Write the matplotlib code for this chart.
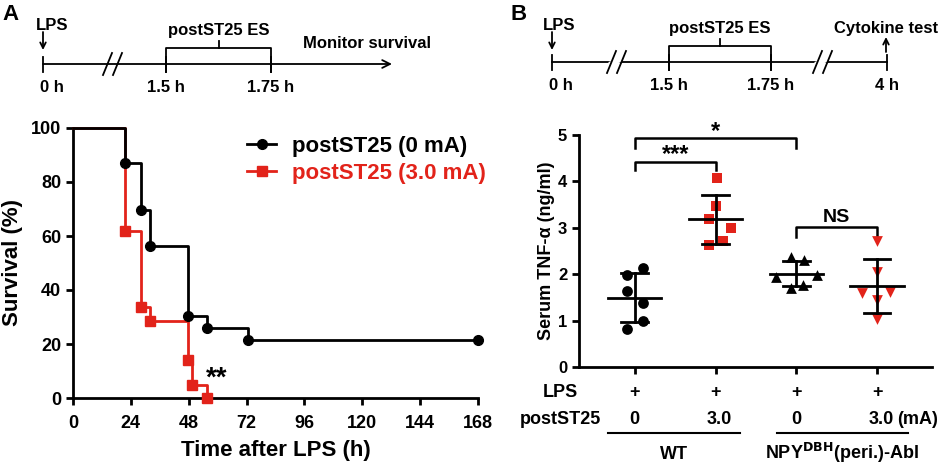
import matplotlib
matplotlib.use('Agg')
import matplotlib.pyplot as plt
import numpy as np

RED = '#E2231A'
plt.rcParams['font.family'] = ['Liberation Sans', 'DejaVu Sans']

# ---- panel A : survival ----
time_0mA = [0, 21.4, 28.4, 31.8, 47.7, 55.6, 72.6, 168]
surv_0mA = [100, 87.1, 69.8, 56.4, 30.3, 26.1, 21.6, 21.6]
time_3mA = [0, 21.4, 28.4, 31.8, 47.7, 49.5, 55.6]
surv_3mA = [100, 61.7, 33.6, 28.6, 14.0, 4.7, 0]
legend_labels = ['postST25 (0 mA)', 'postST25 (3.0 mA)']
xticks_a = [0, 24, 48, 72, 96, 120, 144, 168]
yticks_a = [0, 20, 40, 60, 80, 100]

# ---- panel B : serum TNF-alpha ----
tnf_wt_0 = [1.98, 2.13, 1.64, 1.39, 1.00, 0.81]
tnf_wt_3 = [4.07, 3.46, 3.20, 3.00, 2.72, 2.63]
tnf_abl_0 = [2.36, 2.31, 1.95, 1.98, 1.70, 1.77]
tnf_abl_3 = [2.72, 2.04, 1.60, 1.62, 1.44, 1.03]
jitter_wt_0 = [-0.1, 0.1, -0.1, 0.1, 0.1, -0.1]
jitter_wt_3 = [0.02, 0.01, -0.08, 0.19, 0.09, -0.075]
jitter_abl_0 = [-0.07, 0.09, -0.25, 0.26, -0.07, 0.08]
jitter_abl_3 = [0.0, 0.0, -0.19, 0.165, 0.0, 0.0]
lps_row = ['+', '+', '+', '+']
current_row = ['0', '3.0', '0', '3.0']
group_names = ['WT', r'NPY$^{\mathbf{DBH}}$(peri.)-Abl']

# ---- timelines ----
tl_a_labels = ['0 h', '1.5 h', '1.75 h']
tl_b_labels = ['0 h', '1.5 h', '1.75 h', '4 h']

fig = plt.figure(figsize=(9.47, 4.65), dpi=100)

# overlay in pixel coordinates for the schematic timelines
ov = fig.add_axes([0, 0, 1, 1])
ov.set_xlim(0, 947)
ov.set_ylim(465, 0)
ov.axis('off')
TLW = 1.3
TFS = 12


def slash_break(x, y):
    ov.plot([x - 3, x + 9], [y + 2, y - 2], color='white', lw=3, solid_capstyle='butt')
    for dx in (0, 10):
        ov.plot([x - 5 + dx, x + 4 + dx], [y + 11, y - 11], color='black', lw=TLW)


def timeline(x0, x1, y, tick_x, labels, breaks, br, arrow=False):
    if arrow:
        ov.annotate('', xy=(x1, y), xytext=(x0, y),
                    arrowprops=dict(arrowstyle='->', lw=TLW, color='black',
                                    shrinkA=0, shrinkB=0, mutation_scale=14))
    else:
        ov.plot([x0, x1], [y, y], color='black', lw=TLW)
    for tx, lab in zip(tick_x, labels):
        ov.plot([tx, tx], [y - 7, y + 8], color='black', lw=TLW)
        ov.text(tx if tx != tick_x[0] else tx - 3, y + 24, lab, fontsize=TFS,
                fontweight='bold',
                ha='left' if tx == tick_x[0] else 'center', va='center')
    for b in breaks:
        slash_break(b, y)
    bx0, bx1 = br
    ov.plot([bx0, bx0, bx1, bx1], [y + 8, y - 16, y - 16, y + 8], color='black', lw=TLW)
    mid = (bx0 + bx1) / 2
    ov.plot([mid, mid], [y - 16, y - 23], color='black', lw=TLW)
    ov.text(mid, y - 34, 'postST25 ES', fontsize=TFS, fontweight='bold',
            ha='center', va='center')


timeline(43, 392, 64, [43, 166, 271], tl_a_labels, [108], (166, 271), arrow=True)
ov.text(36, 25, 'LPS', fontsize=TFS, fontweight='bold', ha='left', va='center')
ov.annotate('', xy=(43, 50), xytext=(43, 32),
            arrowprops=dict(arrowstyle='->', lw=TLW, shrinkA=0, shrinkB=0, mutation_scale=10))
ov.text(303, 43, 'Monitor survival', fontsize=TFS, fontweight='bold', ha='left', va='center')
ov.text(2, 14, 'A', fontsize=16, fontweight='bold', ha='left', va='center')

timeline(552, 887, 62, [552, 669, 771, 887], tl_b_labels, [612, 818], (669, 771))
ov.text(543, 25, 'LPS', fontsize=TFS, fontweight='bold', ha='left', va='center')
ov.annotate('', xy=(552, 50), xytext=(552, 32),
            arrowprops=dict(arrowstyle='->', lw=TLW, shrinkA=0, shrinkB=0, mutation_scale=10))
ov.annotate('', xy=(886, 37), xytext=(886, 52),
            arrowprops=dict(arrowstyle='->', lw=TLW, shrinkA=0, shrinkB=0, mutation_scale=10))
ov.text(938, 28, 'Cytokine test', fontsize=TFS, fontweight='bold', ha='right', va='center')
ov.text(511, 15, 'B', fontsize=16, fontweight='bold', ha='left', va='center')

# ---------------- panel A ----------------
axa = fig.add_axes([73 / 947, 67 / 465, 405 / 947, 270 / 465])
axa.plot(time_0mA, surv_0mA, drawstyle='steps-post', color='black', lw=2,
         marker='o', ms=7, markevery=list(range(1, len(time_0mA))), zorder=4,
         clip_on=False, label=legend_labels[0])
axa.plot(time_3mA, surv_3mA, drawstyle='steps-post', color=RED, lw=2,
         marker='s', ms=6.5, markevery=list(range(1, len(time_3mA))), zorder=3,
         clip_on=False, label=legend_labels[1])
axa.set_xlim(0, 168)
axa.set_ylim(0, 100)
axa.set_xticks(xticks_a)
axa.set_yticks(yticks_a)
for s in ('top', 'right'):
    axa.spines[s].set_visible(False)
for s in ('left', 'bottom'):
    axa.spines[s].set_linewidth(2)
axa.tick_params(width=2, length=5, labelsize=13)
axa.tick_params(axis='x', pad=7)
for t in axa.get_xticklabels() + axa.get_yticklabels():
    t.set_fontweight('bold')
axa.set_xlabel('Time after LPS (h)', fontsize=16, fontweight='bold', labelpad=6)
axa.set_ylabel('Survival (%)', fontsize=16, fontweight='bold', labelpad=6)
axa.text(59.5, 7.0, '**', fontsize=20, fontweight='bold', ha='center', va='center')
leg = axa.legend(loc='upper left', bbox_to_anchor=(0.43, 0.97), frameon=False,
                 borderpad=0, borderaxespad=0, handlelength=1.3, handletextpad=0.7,
                 labelspacing=0.25, prop={'size': 16, 'weight': 'bold'},
                 labelcolor='linecolor')

# ---------------- panel B ----------------
axb = fig.add_axes([579 / 947, 98 / 465, 353 / 947, 232 / 465])
groups = [tnf_wt_0, tnf_wt_3, tnf_abl_0, tnf_abl_3]
jitters = [jitter_wt_0, jitter_wt_3, jitter_abl_0, jitter_abl_3]
markers = ['o', 's', '^', 'v']
colors = ['black', RED, 'black', RED]
for i, (vals, jit, m, c) in enumerate(zip(groups, jitters, markers, colors)):
    pos = i + 1
    vals = np.array(vals)
    axb.scatter(pos + np.array(jit), vals, marker=m, s=60, color=c, zorder=3, linewidths=0)
    mu, sd = vals.mean(), vals.std(ddof=1)
    axb.plot([pos - 0.33, pos + 0.33], [mu, mu], color='black', lw=2, zorder=4)
    axb.plot([pos, pos], [mu - sd, mu + sd], color='black', lw=2, zorder=4)
    for yy in (mu - sd, mu + sd):
        axb.plot([pos - 0.165, pos + 0.165], [yy, yy], color='black', lw=2, zorder=4)


# significance brackets
def bracket(x0, x1, y, drop, label, ty, fs):
    axb.plot([x0, x0, x1, x1], [y - drop, y, y, y - drop], color='black', lw=1.8,
             clip_on=False)
    axb.text((x0 + x1) / 2, ty, label, fontsize=fs, fontweight='bold',
             ha='center', va='center', clip_on=False)


bracket(1, 3, 4.93, 0.21, '*', 5.08, 17)
bracket(1, 2, 4.42, 0.17, '***', 4.57, 17)
bracket(3, 4, 3.02, 0.21, 'NS', 3.22, 14)

axb.set_xlim(0.31, 4.68)
axb.set_ylim(0, 5)
axb.set_xticks([1, 2, 3, 4])
axb.set_xticklabels([])
axb.set_yticks([0, 1, 2, 3, 4, 5])
for s in ('top', 'right'):
    axb.spines[s].set_visible(False)
for s in ('left', 'bottom'):
    axb.spines[s].set_linewidth(2)
axb.tick_params(width=2, length=5, labelsize=12)
for t in axb.get_yticklabels():
    t.set_fontweight('bold')
axb.set_ylabel('Serum TNF-α (ng/ml)', fontsize=13, fontweight='bold', labelpad=2)

tr = axb.get_xaxis_transform()
axb.text(0.085, -0.108, 'LPS', transform=tr, fontsize=13, fontweight='bold',
         ha='center', va='center')
axb.text(0.085, -0.228, 'postST25', transform=tr, fontsize=13, fontweight='bold',
         ha='center', va='center')
for i, (p, c) in enumerate(zip(lps_row, current_row)):
    axb.text(i + 1, -0.108, p, transform=tr, fontsize=13, fontweight='bold',
             ha='center', va='center')
    axb.text(i + 1 + (0.05 if c == '3.0' else 0), -0.228, c, transform=tr, fontsize=13,
             fontweight='bold', ha='center', va='center')
axb.text(4.25, -0.228, '(mA)', transform=tr, fontsize=13, fontweight='bold',
         ha='left', va='center')
for (x0, x1), name in zip([(0.665, 2.30), (2.76, 4.38)], group_names):
    axb.plot([x0, x1], [-0.284, -0.284], transform=tr, color='black', lw=1.5, clip_on=False)
    axb.text((x0 + x1) / 2, -0.395, name, transform=tr, fontsize=13, fontweight='bold',
             ha='center', va='baseline')

fig.savefig('out.png', dpi=100, facecolor='white')
